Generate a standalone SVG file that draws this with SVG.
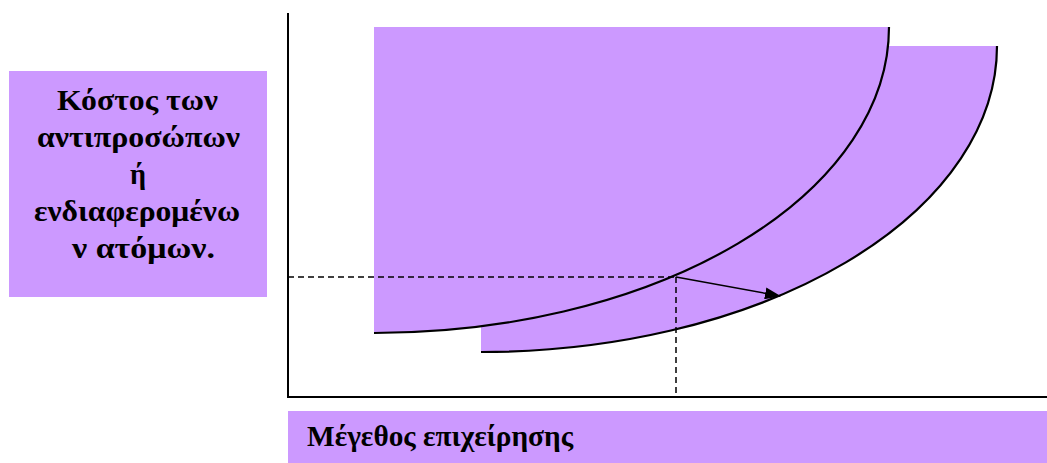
<svg xmlns="http://www.w3.org/2000/svg" width="1047" height="463" viewBox="0 0 1047 463">
<style>
.fill{fill:#CC99FF;stroke:none}
.curve{fill:none;stroke:#000;stroke-width:2.2}
.axis{stroke:#000;stroke-width:2;fill:none}
.dash{stroke:#000;stroke-width:1.5;stroke-dasharray:6,4;fill:none}
.lbl{font-family:"Liberation Serif","Times New Roman",serif;font-weight:bold;fill:#000;font-size:29px}
</style>
<defs>
<marker id="ah" markerWidth="16" markerHeight="12" refX="15" refY="6" orient="auto" markerUnits="userSpaceOnUse">
<path d="M0,0 L16,6 L0,12 Z" fill="#000"/>
</marker>
</defs>
<rect width="1047" height="463" fill="#fff"/>
<g id="curve2">
<path class="fill" d="M481,46 L997,46 A516,306 0 0 1 481,352 Z"/>
<path class="curve" d="M997,46 A516,306 0 0 1 481,352"/>
</g>
<g id="curve1">
<path class="fill" d="M374,27 L889,27 A515,306 0 0 1 374,333 Z"/>
<path class="curve" d="M889,27 A515,306 0 0 1 374,333"/>
</g>
<g id="axes">
<path class="axis" d="M288,13 L288,397 L1047,397"/>
</g>
<g id="connectors">
<path class="dash" d="M288,277 L676,277"/>
<path class="dash" d="M676,277 L676,397"/>
<path stroke="#000" stroke-width="1.5" fill="none" d="M676,277 L780,296" marker-end="url(#ah)"/>
</g>
<g id="ylabel">
<rect class="fill" x="9" y="71" width="258" height="226"/>
<text class="lbl" x="57" y="110" textLength="161" lengthAdjust="spacingAndGlyphs">Κόστος των</text>
<text class="lbl" x="37" y="147" textLength="203" lengthAdjust="spacingAndGlyphs">αντιπροσώπων</text>
<text class="lbl" x="130" y="184" textLength="16" lengthAdjust="spacingAndGlyphs">ή</text>
<text class="lbl" x="34" y="221" textLength="206" lengthAdjust="spacingAndGlyphs">ενδιαφερομένω</text>
<text class="lbl" x="72" y="258" textLength="143" lengthAdjust="spacingAndGlyphs">ν ατόμων.</text>
</g>
<g id="xlabel">
<rect class="fill" x="288" y="411" width="759" height="52"/>
<text class="lbl" x="307" y="446" textLength="266" lengthAdjust="spacingAndGlyphs">Μέγεθος επιχείρησης</text>
</g>
</svg>
